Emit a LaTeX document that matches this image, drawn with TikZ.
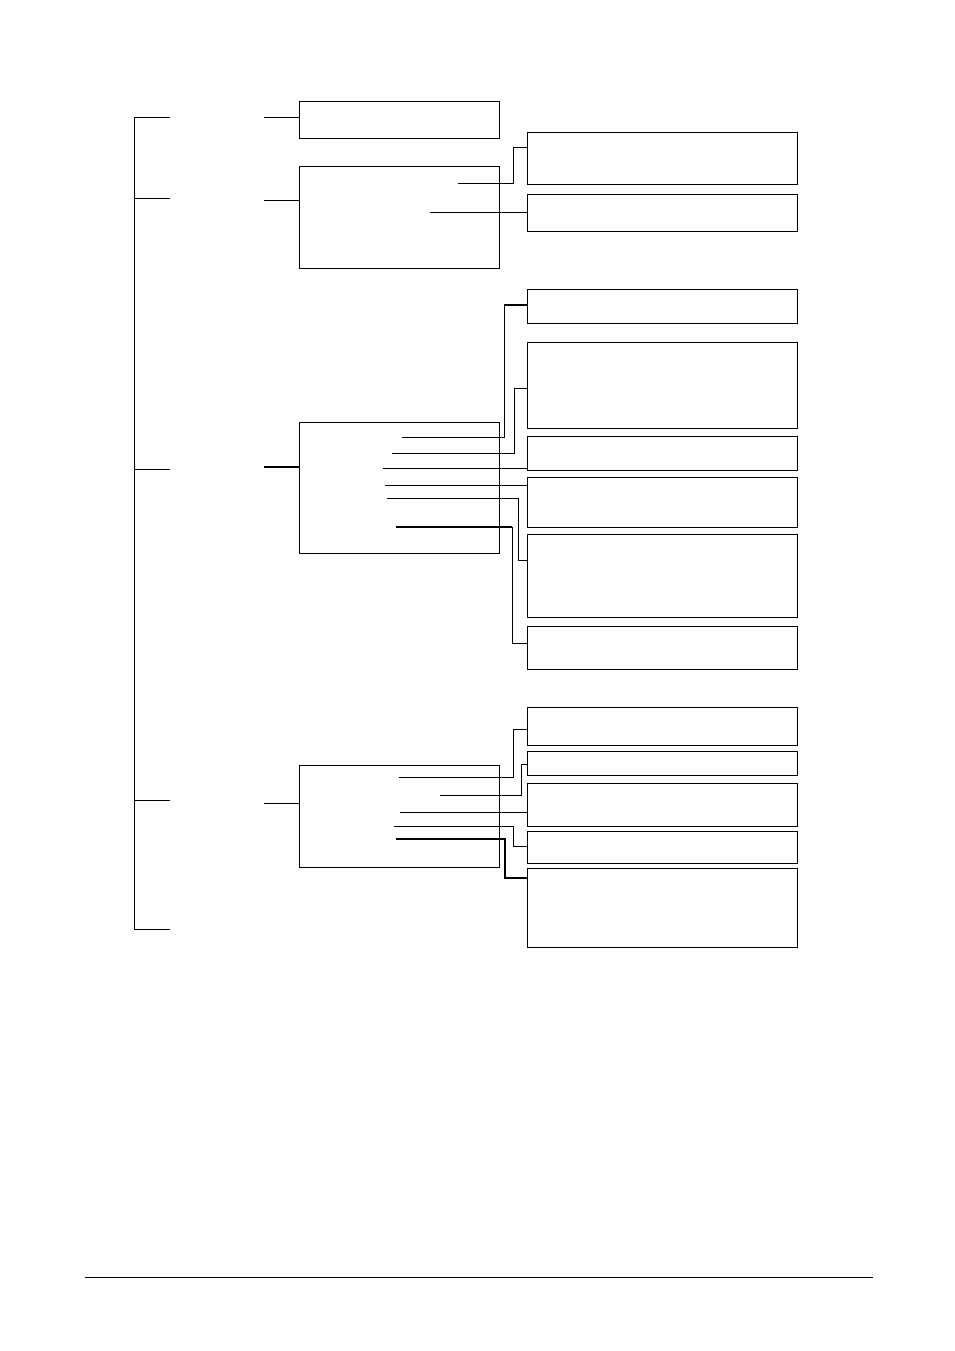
\documentclass[tikz,border=0pt]{standalone}
\usetikzlibrary{positioning}
\tikzset{
  box/.style={draw, line width=1pt, inner sep=0pt, anchor=north west},
  lbox/.style={box, minimum width=200pt},
  rbox/.style={box, minimum width=270pt},
  link/.style={line width=1pt},
  tlink/.style={line width=2pt}
}
\begin{document}
\begin{tikzpicture}[x=1pt, y=-1pt]
		\useasboundingbox (0,0) rectangle (954,1351);
		
		% Left bracket
		\draw[link] (170,118) -- (134,118) -- (134,929) -- (170,929);
		\foreach \y in {199,469,800} \draw[link] (134,\y) -- (170,\y);
		
		% Left boxes
		\node[lbox, minimum height=37pt] (s1) at (299,101) {};
		\node[lbox, minimum height=102pt] (s2) at (299,166) {};
		\node[lbox, minimum height=131pt] (s3) at (299,422) {};
		\node[lbox, minimum height=102pt] (s4) at (299,765) {};
		\draw[link] (264,118) -- (s1.west |- 0,118);
		\draw[link] (264,201) -- (s2.west |- 0,201);
		\draw[tlink] (264,467) -- (s3.west |- 0,467);
		\draw[link] (264,803) -- (s4.west |- 0,803);
		
		% Right boxes
		\node[rbox, minimum height=52pt] (a1) at (527,132) {};
		\node[rbox, minimum height=37pt] (a2) at (527,194) {};
		\node[rbox, minimum height=34pt] (b1) at (527,289) {};
		\node[rbox, minimum height=86pt] (b2) at (527,342) {};
		\node[rbox, minimum height=34pt] (b3) at (527,436) {};
		\node[rbox, minimum height=50pt] (b4) at (527,477) {};
		\node[rbox, minimum height=83pt] (b5) at (527,534) {};
		\node[rbox, minimum height=43pt] (b6) at (527,626) {};
		\node[rbox, minimum height=38pt] (c1) at (527,707) {};
		\node[rbox, minimum height=24pt] (c2) at (527,751) {};
		\node[rbox, minimum height=43pt] (c3) at (527,783) {};
		\node[rbox, minimum height=32pt] (c4) at (527,831) {};
		\node[rbox, minimum height=79pt] (c5) at (527,868) {};
		
		% Connectors
		\draw[link] (458,184) -| (513,148) -- (a1.west |- 0,148);
		\draw[link] (430,212) -- (a2.west |- 0,212);
		\draw[link] (402,437) -| (504,305);
		\draw[tlink] (504,305) -- (b1.west |- 0,305);
		\draw[link] (392,453) -| (514,388) -- (b2.west |- 0,388);
		\draw[link] (383,468) -- (b3.west |- 0,468);
		\draw[link] (385,485) -- (b4.west |- 0,485);
		\draw[link] (387,498) -| (518,560) -- (b5.west |- 0,560);
		\draw[tlink] (396,527) -- (512,527);
		\draw[link] (512,527) |- (b6.west |- 0,643);
		\draw[link] (399,777) -| (513,729) -- (c1.west |- 0,729);
		\draw[link] (440,795) -| (521,764) -- (c2.west |- 0,764);
		\draw[link] (400,812) -- (c3.west |- 0,812);
		\draw[link] (394,826) -| (513,846) -- (c4.west |- 0,846);
		\draw[tlink] (396,839) -| (505,878) -- (c5.west |- 0,878);
		
		% Footer rule
		\draw[link] (85,1277) -- (873,1277);
		
\end{tikzpicture}
\end{document}
